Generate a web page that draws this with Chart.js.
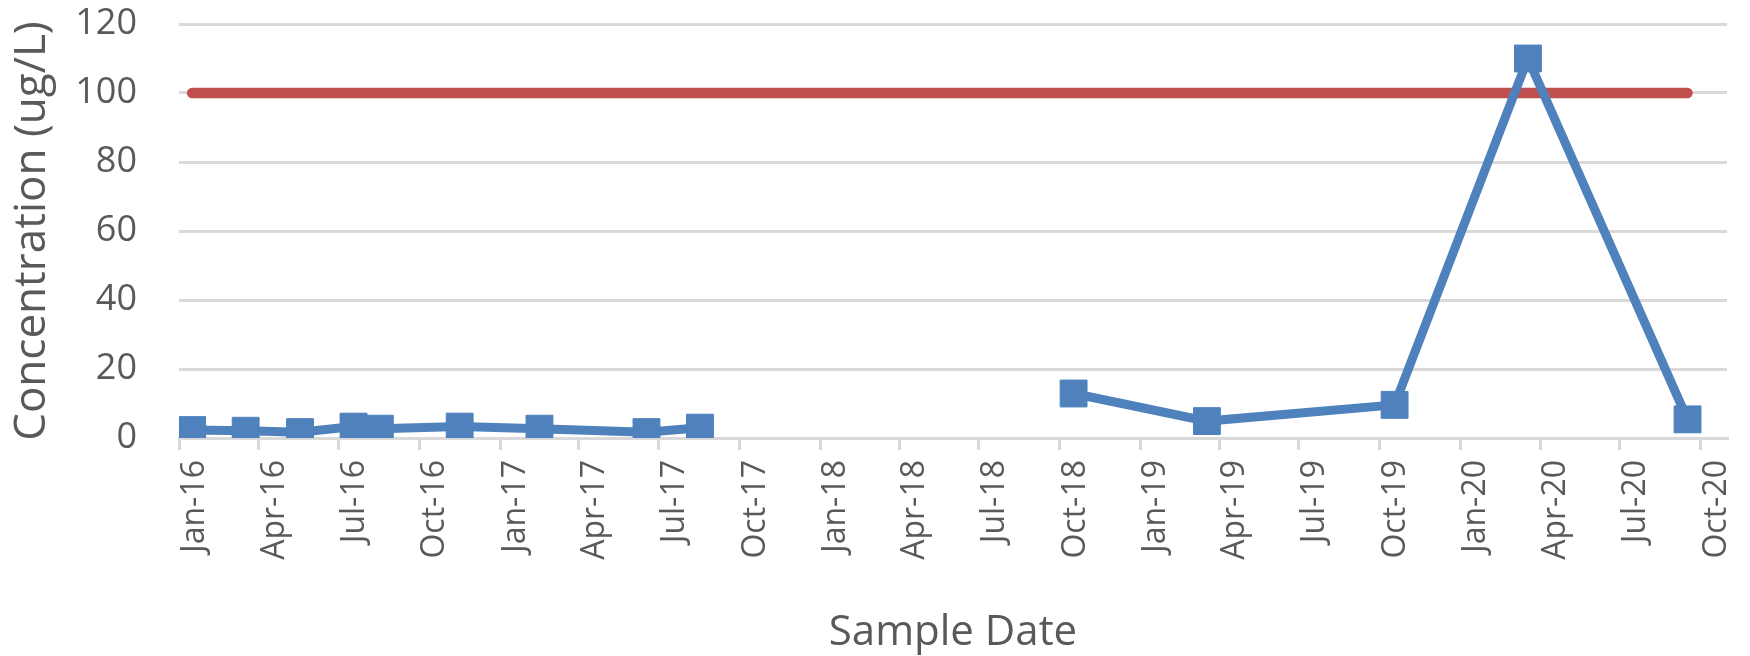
<!DOCTYPE html>
<html>
<head>
<meta charset="utf-8">
<script src="https://cdn.jsdelivr.net/npm/chart.js@4/dist/chart.umd.min.js"></script>
<style>
    html, body { margin: 0; padding: 0; background: #fff; }
    #wrap { width: 1750px; height: 656px; }
</style>
</head>
<body>
<div id="wrap"><canvas id="concChart" width="1750" height="656"></canvas></div>
<script>
// Данные графика
const sampleDates = ['2016-01-16', '2016-03-17', '2016-05-18', '2016-07-18', '2016-08-17',
    '2016-11-16', '2017-02-15', '2017-06-17', '2017-08-17', '2018-10-17',
    '2019-03-18', '2019-10-18', '2020-03-18', '2020-09-16'];
const concentrations = [2.3, 2.1, 1.7, 3.3, 2.7, 3.3, 2.7, 1.7, 3.0, 12.9, 4.9, 9.6, 110, 5.4];

const limitDates = ['2016-01-16', '2020-09-16'];
const limitValues = [100, 100];

const tickDates = ['2016-01-01', '2016-04-01', '2016-07-01', '2016-10-01', '2017-01-01',
    '2017-04-01', '2017-07-01', '2017-10-01', '2018-01-01', '2018-04-01', '2018-07-01',
    '2018-10-01', '2019-01-01', '2019-04-01', '2019-07-01', '2019-10-01', '2020-01-01',
    '2020-04-01', '2020-07-01', '2020-10-01'];
const tickLabels = ['Jan-16', 'Apr-16', 'Jul-16', 'Oct-16', 'Jan-17', 'Apr-17', 'Jul-17',
    'Oct-17', 'Jan-18', 'Apr-18', 'Jul-18', 'Oct-18', 'Jan-19', 'Apr-19', 'Jul-19',
    'Oct-19', 'Jan-20', 'Apr-20', 'Jul-20', 'Oct-20'];
const yTicks = [0, 20, 40, 60, 80, 100, 120];

const axisStart = '2016-01-01';
const axisEnd = '2020-10-31';

// дата -> число дней от начала оси
function toDay(s) {
    const p = s.split('-').map(Number);
    return (Date.UTC(p[0], p[1] - 1, p[2]) - Date.UTC(2016, 0, 1)) / 86400000;
}

const textColor = '#595959';
const gridColor = '#D9D9D9';
const fontFamily = '"Open Sans", Calibri, sans-serif';

const ctx = document.getElementById('concChart');

new Chart(ctx, {
    type: 'line',
    data: {
        datasets: [
            {
                label: 'Concentration',
                data: sampleDates.map((d, i) => ({ x: toDay(d), y: concentrations[i] })),
                borderColor: '#4F81BD',
                backgroundColor: '#4F81BD',
                borderWidth: 9,
                pointStyle: 'rect',
                pointRadius: 19,
                pointHoverRadius: 19,
                pointBorderWidth: 1,
                pointBorderColor: '#4F81BD',
                pointBackgroundColor: '#4F81BD',
                tension: 0,
                spanGaps: 300,
                order: 0
            },
            {
                label: 'Limit',
                data: limitDates.map((d, i) => ({ x: toDay(d), y: limitValues[i] })),
                borderColor: '#C0504D',
                backgroundColor: '#C0504D',
                borderWidth: 10.5,
                borderCapStyle: 'round',
                pointRadius: 0,
                pointHoverRadius: 0,
                order: 1
            }
        ]
    },
    options: {
        responsive: false,
        devicePixelRatio: 1,
        animation: false,
        layout: {
            padding: { top: 24, right: 23, left: 0, bottom: 0 }
        },
        plugins: {
            legend: { display: false },
            tooltip: { enabled: false }
        },
        scales: {
            x: {
                type: 'linear',
                min: toDay(axisStart),
                max: toDay(axisEnd),
                afterBuildTicks: function(scale) {
                    scale.ticks = tickDates.map(d => ({ value: toDay(d) }));
                },
                afterFit: function(scale) {
                    scale.height = 218;
                    scale.paddingLeft = 0;
                    scale.paddingRight = 0;
                },
                grid: {
                    drawOnChartArea: false,
                    drawTicks: true,
                    tickLength: 12,
                    color: gridColor,
                    lineWidth: 3
                },
                border: {
                    display: true,
                    color: gridColor,
                    width: 3
                },
                ticks: {
                    autoSkip: false,
                    minRotation: 90,
                    maxRotation: 90,
                    padding: 10,
                    labelOffset: 16,
                    color: textColor,
                    font: { family: fontFamily, size: 32 },
                    callback: function(value, index) {
                        return tickLabels[index];
                    }
                },
                title: {
                    display: true,
                    text: 'Sample Date',
                    color: textColor,
                    font: { family: fontFamily, size: 42, lineHeight: 1.0 },
                    padding: { top: 0, bottom: 2 }
                }
            },
            y: {
                min: 0,
                max: 120,
                afterBuildTicks: function(scale) {
                    scale.ticks = yTicks.map(v => ({ value: v }));
                },
                afterFit: function(scale) {
                    scale.width = 179;
                    scale.paddingTop = 0;
                    scale.paddingBottom = 0;
                },
                grid: {
                    drawTicks: false,
                    color: gridColor,
                    lineWidth: 3
                },
                border: { display: false },
                ticks: {
                    padding: 42,
                    color: textColor,
                    font: { family: fontFamily, size: 36 }
                },
                title: {
                    display: true,
                    text: 'Concentration (ug/L)',
                    color: textColor,
                    font: { family: fontFamily, size: 44, lineHeight: 1.2 },
                    padding: { top: 6, bottom: 0 }
                }
            }
        }
    }
});
</script>
</body>
</html>
